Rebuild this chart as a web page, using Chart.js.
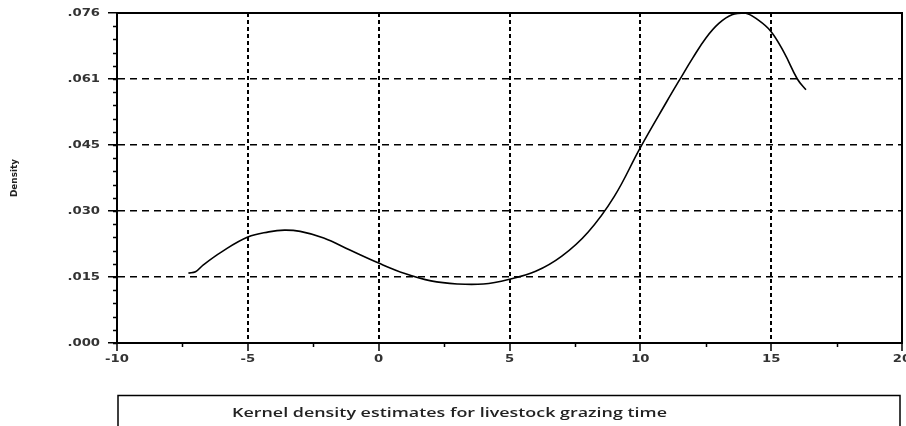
<!DOCTYPE html>
<html>
<head>
<meta charset="utf-8">
<script src="https://cdn.jsdelivr.net/npm/chart.js@4.4.1/dist/chart.umd.min.js"></script>
<style>
  html, body { margin: 0; padding: 0; background: #fff; }
  #wrap { width: 906px; height: 426px; }
</style>
</head>
<body>
<div id="wrap"><canvas id="kde" width="906" height="426"></canvas></div>
<script>
'use strict';

// grazing time (x) and estimated density (y)
var grazeX = [-7.27, -7.0, -6.7, -6.0, -5.0, -4.2, -3.6, -3.0, -2.1, -1.1, 0, 1.0, 2.0, 3.0, 4.0,
              5.0, 6.0, 7.0, 8.0, 9.0, 10.0, 11.0, 11.5, 12.0, 12.5, 13.0, 13.5, 14.0, 14.5,
              15.0, 15.5, 16.0, 16.33];
var densityY = [0.0161, 0.0164, 0.0180, 0.0210, 0.0244, 0.0256, 0.0260, 0.0257, 0.0242, 0.0214, 0.0184,
                0.0160, 0.0143, 0.0136, 0.0136, 0.0147, 0.0165, 0.0200, 0.0255, 0.0337, 0.0450,
                0.0555, 0.0606, 0.0656, 0.0702, 0.0736, 0.0756, 0.0760, 0.0744, 0.0717, 0.0668,
                0.0608, 0.0583];

var yTickValues = [0, 0.0152, 0.0304, 0.0456, 0.0608, 0.076];
var yTickLabels = ['.000', '.015', '.030', '.045', '.061', '.076'];
var xTickValues = [-10, -5, 0, 5, 10, 15, 20];
var xTickLabels = ['-10', '-5', '0', '5', '10', '15', '20'];
var yMinorStep = 0.00304;
var xMinorStep = 2.5;

var yAxisTitle = 'Density';
var boxTitle = 'Kernel density estimates for livestock grazing time';

var points = grazeX.map(function (x, i) { return { x: x, y: densityY[i] }; });

// draw text squeezed / stretched horizontally
function fitText(ctx, text, x, y, width) {
  var w = ctx.measureText(text).width;
  ctx.save();
  ctx.translate(x, y);
  ctx.scale(width / w, 1);
  ctx.fillText(text, 0, 0);
  ctx.restore();
}
function wideText(ctx, text, x, y, k, align) {
  var w = ctx.measureText(text).width * k;
  var x0 = align === 'right' ? x - w : (align === 'center' ? x - w / 2 : x);
  ctx.save();
  ctx.translate(x0, y);
  ctx.scale(k, 1);
  ctx.textAlign = 'left';
  ctx.fillText(text, 0, 0);
  ctx.restore();
}

var framePlugin = {
  id: 'frame',
  afterDraw: function (chart) {
    var ctx = chart.ctx, a = chart.chartArea;
    var xs = chart.scales.x, ys = chart.scales.y;
    ctx.save();
    ctx.strokeStyle = '#000';

    // top and right border
    ctx.lineWidth = 2;
    ctx.beginPath();
    ctx.moveTo(a.left, a.top);
    ctx.lineTo(a.right, a.top);
    ctx.lineTo(a.right, a.bottom);
    ctx.stroke();

    // minor ticks
    ctx.lineWidth = 1.5;
    ctx.beginPath();
    for (var v = 0; v < 0.076; v += yMinorStep) {
      var py = Math.round(ys.getPixelForValue(v)) + 0.5;
      ctx.moveTo(a.left - 4, py);
      ctx.lineTo(a.left, py);
    }
    for (var xv = -10 + xMinorStep; xv < 20; xv += 5) {
      var px = Math.round(xs.getPixelForValue(xv)) + 0.5;
      ctx.moveTo(px, a.bottom);
      ctx.lineTo(px, a.bottom + 4);
    }
    ctx.stroke();

    // tick labels, placed from the scales
    ctx.fillStyle = '#333';
    ctx.font = 'bold 10px "DejaVu Sans"';
    ctx.textBaseline = 'middle';
    ys.ticks.forEach(function (t, i) {
      wideText(ctx, yTickLabels[i], a.left - 17, ys.getPixelForValue(t.value), 1.32, 'right');
    });
    xs.ticks.forEach(function (t, i) {
      wideText(ctx, xTickLabels[i], xs.getPixelForValue(t.value), a.bottom + 16, 1.32, 'center');
    });

    // y axis title
    ctx.fillStyle = '#222';
    ctx.font = 'bold 9px "DejaVu Sans"';
    ctx.textAlign = 'left';
    ctx.save();
    ctx.translate(15, 197);
    ctx.rotate(-Math.PI / 2);
    fitText(ctx, yAxisTitle, 0, 0, 38);
    ctx.restore();

    // caption box
    ctx.lineWidth = 1.5;
    ctx.strokeRect(118, 395.5, 782, 40);
    ctx.font = '600 12px "Open Sans"';
    ctx.fillStyle = '#222';
    fitText(ctx, boxTitle, 232, 414, 435);
    ctx.restore();
  }
};

var chart = new Chart(document.getElementById('kde').getContext('2d'), {
  type: 'scatter',
  data: {
    datasets: [{
      data: points,
      showLine: true,
      borderColor: '#000',
      borderWidth: 1.6,
      pointRadius: 0,
      tension: 0.4,
      fill: false
    }]
  },
  options: {
    responsive: false,
    animation: false,
    events: [],
    layout: { autoPadding: false, padding: { top: 13, right: 4, left: 0, bottom: 0 } },
    plugins: { legend: { display: false }, tooltip: { enabled: false }, title: { display: false } },
    scales: {
      x: {
        type: 'linear',
        min: -10,
        max: 20,
        afterFit: function (s) { s.height = 83; },
        afterBuildTicks: function (s) { s.ticks = xTickValues.map(function (v) { return { value: v }; }); },
        border: { display: true, color: '#000', width: 2, dash: [4, 3] },
        grid: {
          color: '#000',
          lineWidth: 2,
          drawTicks: true,
          tickLength: 8,
          tickColor: '#000',
          tickWidth: 1.5,
          tickBorderDash: []
        },
        ticks: { display: false }
      },
      y: {
        type: 'linear',
        min: 0,
        max: 0.076,
        afterFit: function (s) { s.width = 117; },
        afterBuildTicks: function (s) { s.ticks = yTickValues.map(function (v) { return { value: v }; }); },
        border: { display: true, color: '#000', width: 2, dash: [7, 5] },
        grid: {
          color: '#000',
          lineWidth: 1.5,
          drawTicks: true,
          tickLength: 9,
          tickColor: '#000',
          tickWidth: 1.5,
          tickBorderDash: []
        },
        ticks: { display: false }
      }
    }
  },
  plugins: [framePlugin]
});
</script>
</body>
</html>
